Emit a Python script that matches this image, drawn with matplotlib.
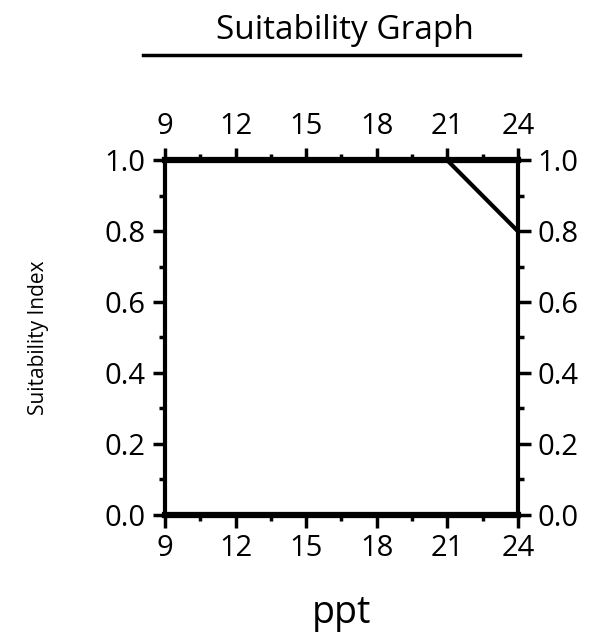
import numpy as np
import matplotlib
matplotlib.use("Agg")
import matplotlib.pyplot as plt
from matplotlib.ticker import MultipleLocator

# data
salinity = [9, 21, 24]
suitability = [1.0, 1.0, 0.8]
xticks = [9, 12, 15, 18, 21, 24]
yticks = [0.0, 0.2, 0.4, 0.6, 0.8, 1.0]
ytick_labels = ["0.0", "0.2", "0.4", "0.6", "0.8", "1.0"]

plt.rcParams['font.family'] = ['Open Sans', 'DejaVu Sans']

fig = plt.figure(figsize=(6, 6.41), dpi=100)
ax = fig.add_axes([0.275, 0.197, 0.588, 0.553])

ax.plot(salinity, suitability, '-k', lw=3, solid_capstyle='butt', clip_on=False)

ax.set_xlim(9, 24)
ax.set_ylim(0, 1)

for side in ['left', 'right']:
  ax.spines[side].set_linewidth(3)
for side in ['top', 'bottom']:
  ax.spines[side].set_linewidth(4.5)

ax.set_xticks(xticks)
ax.set_xticklabels([str(t) for t in xticks])
ax.set_yticks(yticks)
ax.set_yticklabels(ytick_labels)
ax.xaxis.set_minor_locator(MultipleLocator(1.5))
ax.yaxis.set_minor_locator(MultipleLocator(0.1))

ax.tick_params(which='both', direction='out', top=True, right=True,
               labeltop=True, labelright=True, width=2.5, labelsize=21)
ax.tick_params(which='major', length=9, pad=5)
ax.tick_params(which='minor', length=4)

ax.set_ylabel("Suitability Index", fontsize=15, labelpad=40)
ax.set_xlabel("ppt", fontsize=27, labelpad=22)

fig.text(0.575, 0.953, "Suitability Graph", ha='center', va='center', fontsize=24)
fig.add_artist(plt.Line2D([0.238, 0.867], [0.914, 0.914], color='k', lw=2.5))

fig.savefig("out.png", dpi=100)
